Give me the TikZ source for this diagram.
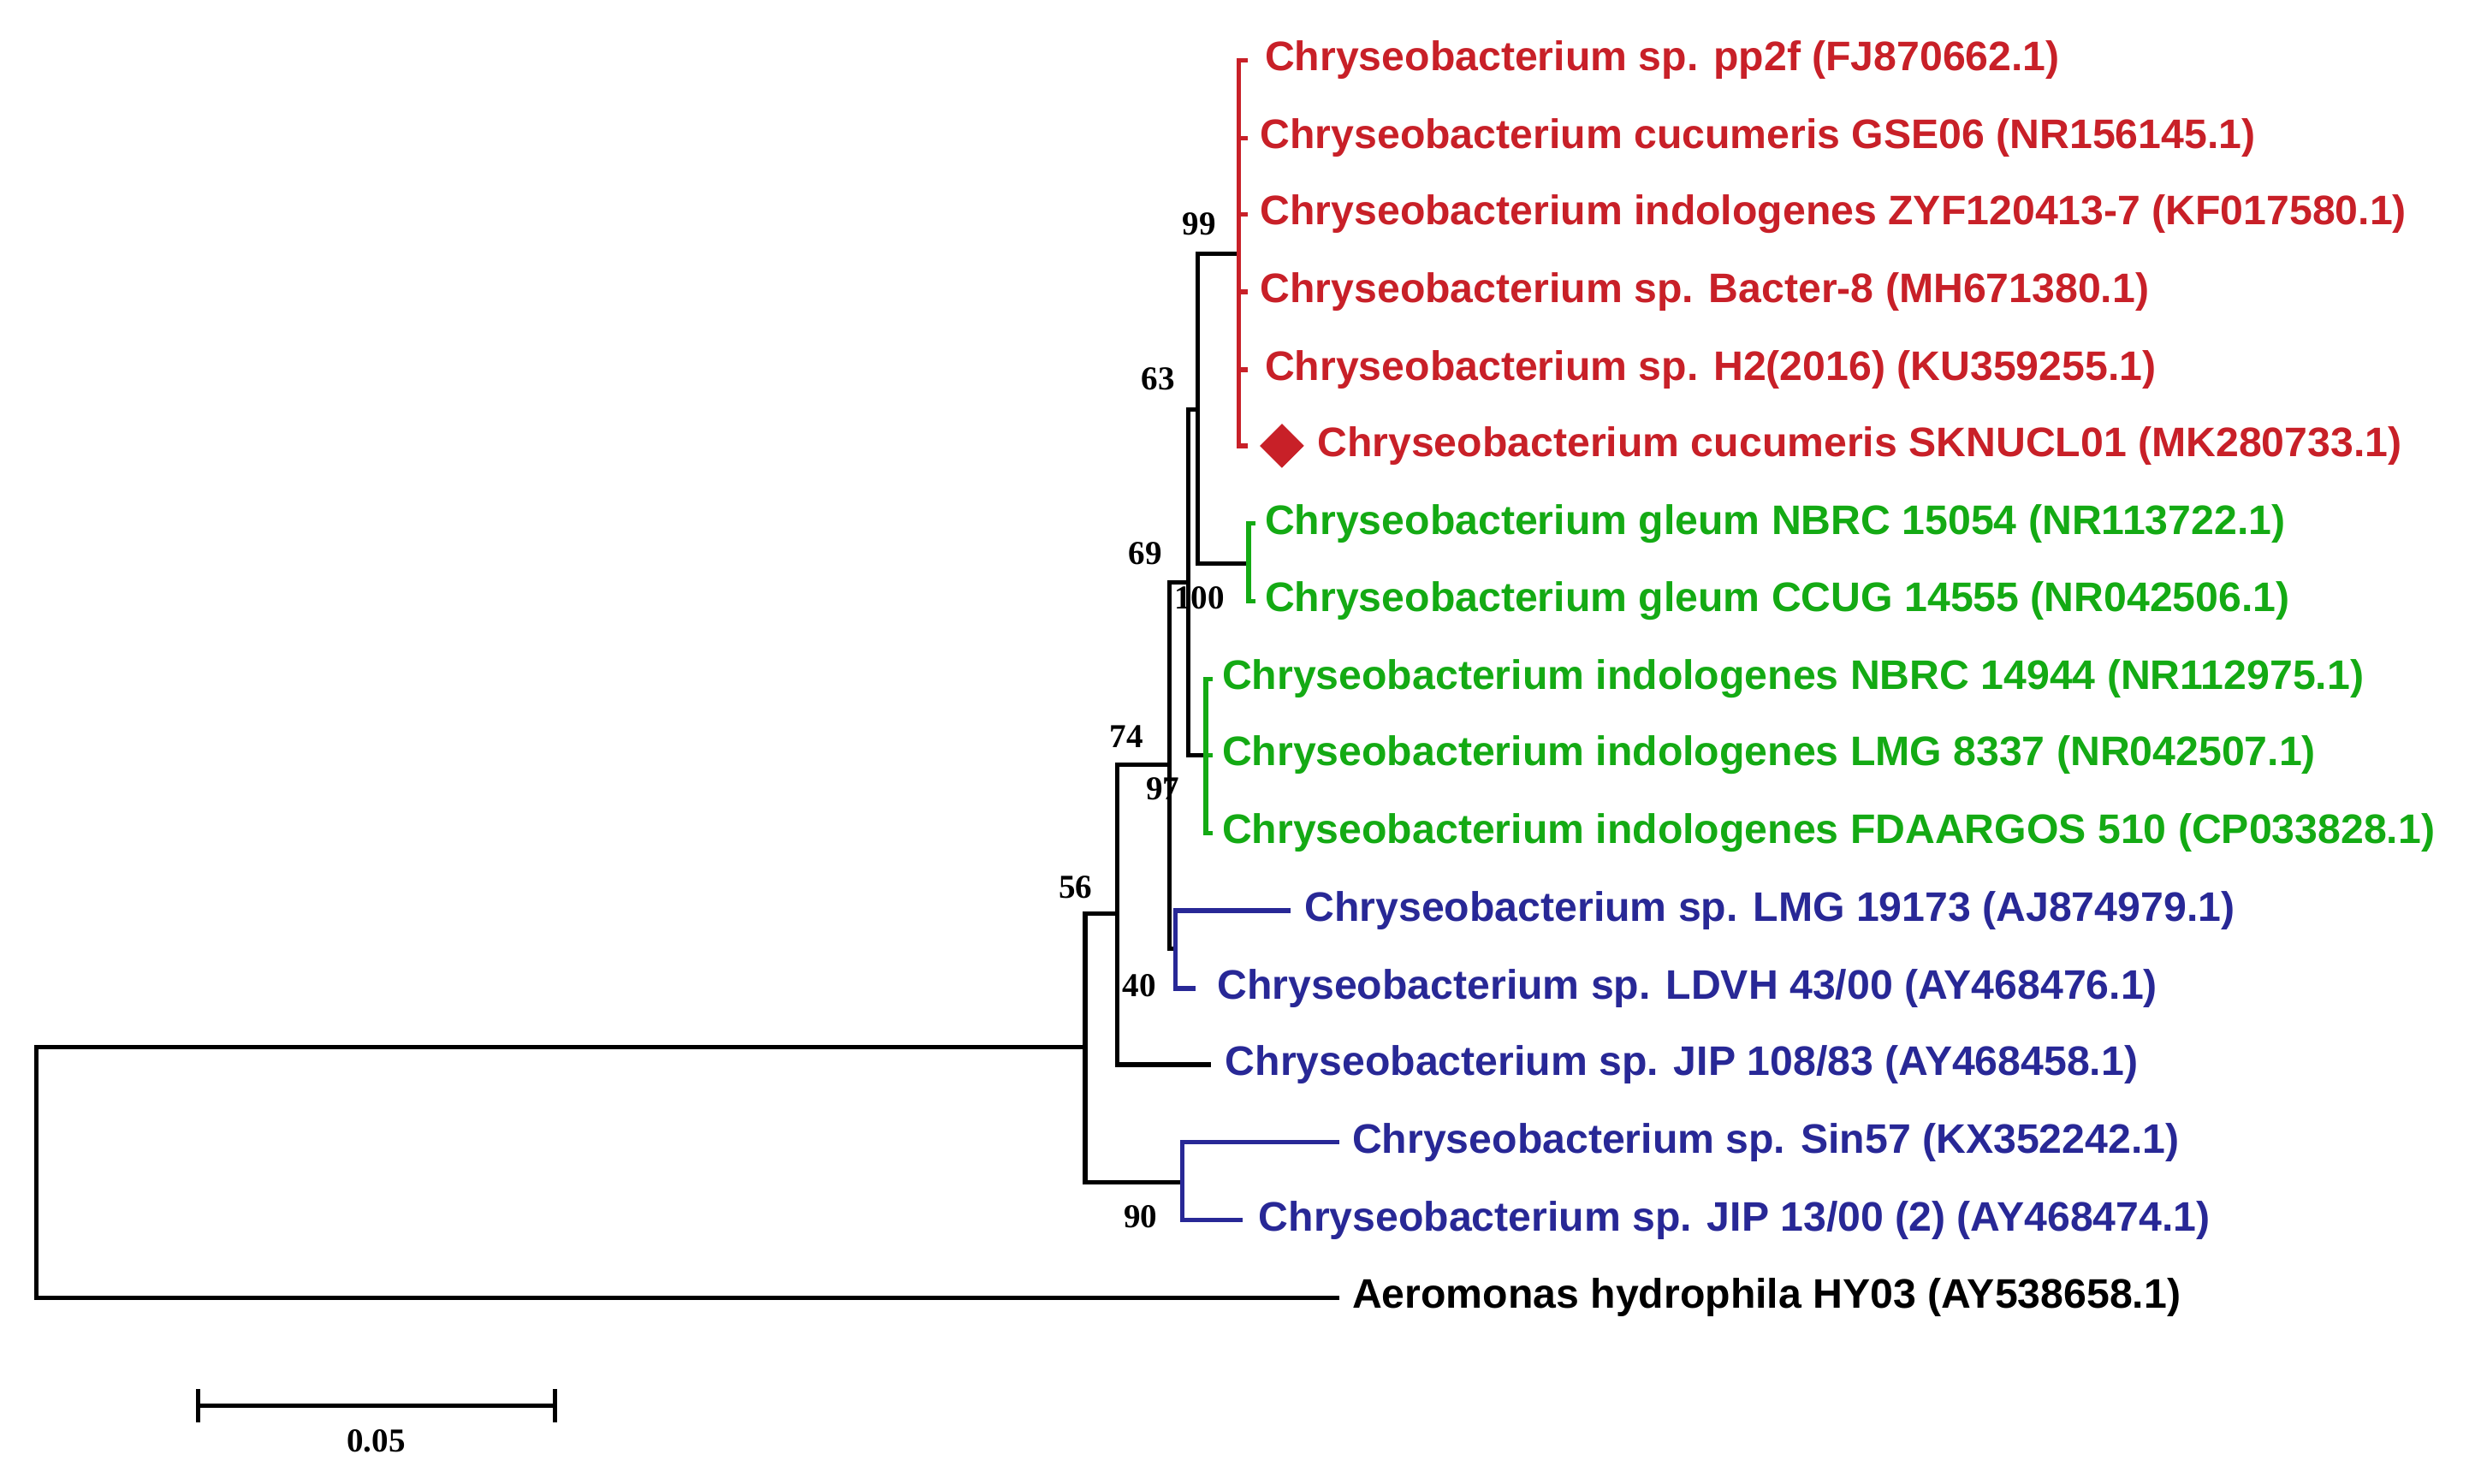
\documentclass[tikz,border=0pt]{standalone}
\usepackage{fontspec}
\setmainfont{Liberation Sans}
\newfontfamily\bootfont{Liberation Serif}
\usetikzlibrary{shapes.geometric}
\definecolor{cladered}{RGB}{200,32,40}
\definecolor{cladegreen}{RGB}{20,170,20}
\definecolor{cladeblue}{RGB}{40,40,150}
\tikzset{
  branch/.style={line width=1.6pt, line cap=rect},
  taxon/.style={anchor=west, inner sep=0pt, font=\fontsize{14.8}{16}\selectfont\bfseries},
  boot/.style={inner sep=0pt, font=\bootfont\fontsize{12}{14}\selectfont\bfseries},
}
\begin{document}
\begin{tikzpicture}[x=0.02cm, y=-0.02cm]
\useasboundingbox (0,0) rectangle (1560,935);
% internal nodes
\coordinate (cR) at (781,160);
\coordinate (cG) at (787,355);
\coordinate (cI) at (760,476);
\coordinate (c40) at (741,598);
\coordinate (c90) at (745,745);
\coordinate (n99) at (755,258);
\coordinate (n63) at (749,367);
\coordinate (n69) at (737,482);
\coordinate (n74) at (704,576);
\coordinate (n56) at (684,660);
\coordinate (root) at (23,740);
\coordinate (e108) at (762,671);
\coordinate (eAer) at (843,818);
% backbone
\draw[branch] (cR) -| (n99) |- (cG);
\draw[branch] (n99) -| (n63) |- (cI);
\draw[branch] (n63) -| (n69) |- (c40);
\draw[branch] (n69) -| (n74) |- (e108);
\draw[branch] (n74) -| (n56) |- (c90);
\draw[branch] (n56) -| (root) |- (eAer);
% red clade
\begin{scope}[cladered]
\coordinate (r1) at (781,38);
\coordinate (r6) at (781,281);
\draw[branch] (r1) -- (r6);
\foreach \y in {38,87,135,184,233,281} \draw[branch] (781,\y) -- (785,\y);
\node[taxon] (t1) at (797,38) {Chryseobacterium sp. pp2f (FJ870662.1)};
\node[taxon] (t2) at (794,87) {Chryseobacterium cucumeris GSE06 (NR156145.1)};
\node[taxon] (t3) at (794,135) {Chryseobacterium indologenes ZYF120413-7 (KF017580.1)};
\node[taxon] (t4) at (794,184) {Chryseobacterium sp. Bacter-8 (MH671380.1)};
\node[taxon] (t5) at (797,233) {Chryseobacterium sp. H2(2016) (KU359255.1)};
\node[diamond, fill=cladered, minimum size=16pt, inner sep=0pt] (dm) at (808,281) {};
\node[taxon] (t6) at (830,281) {Chryseobacterium cucumeris SKNUCL01 (MK280733.1)};
\end{scope}
% green clades
\begin{scope}[cladegreen]
\draw[branch] (787,330) -- (787,379);
\draw[branch] (787,330) -- (790,330);
\draw[branch] (787,379) -- (790,379);
\node[taxon] (t7) at (797,330) {Chryseobacterium gleum NBRC 15054 (NR113722.1)};
\node[taxon] (t8) at (797,379) {Chryseobacterium gleum CCUG 14555 (NR042506.1)};
\draw[branch] (760,428) -- (760,525);
\foreach \y in {428,476,525} \draw[branch] (760,\y) -- (763,\y);
\node[taxon] (t9) at (770,428) {Chryseobacterium indologenes NBRC 14944 (NR112975.1)};
\node[taxon] (t10) at (770,476) {Chryseobacterium indologenes LMG 8337 (NR042507.1)};
\node[taxon] (t11) at (770,525) {Chryseobacterium indologenes FDAARGOS 510 (CP033828.1)};
\end{scope}
% blue clades
\begin{scope}[cladeblue]
\draw[branch] (812,574) -| (c40) |- (752,623);
\node[taxon] (t12) at (822,574) {Chryseobacterium sp. LMG 19173 (AJ874979.1)};
\node[taxon] (t13) at (767,623) {Chryseobacterium sp. LDVH 43/00 (AY468476.1)};
\node[taxon] (t14) at (772,671) {Chryseobacterium sp. JIP 108/83 (AY468458.1)};
\draw[branch] (843,720) -| (c90) |- (782,769);
\node[taxon] (t15) at (852,720) {Chryseobacterium sp. Sin57 (KX352242.1)};
\node[taxon] (t16) at (793,769) {Chryseobacterium sp. JIP 13/00 (2) (AY468474.1)};
\end{scope}
\node[taxon] (t17) at (852,818) {Aeromonas hydrophila HY03 (AY538658.1)};
% bootstrap values
\node[boot] (b99) at (756,141) {99};
\node[boot] (b63) at (730,239) {63};
\node[boot] (b100) at (756,377) {100};
\node[boot] (b69) at (722,349) {69};
\node[boot] (b97) at (733,497) {97};
\node[boot] (b74) at (710,464) {74};
\node[boot] (b56) at (678,559) {56};
\node[boot] (b40) at (718,621) {40};
\node[boot] (b90) at (719,767) {90};
% scale bar
\coordinate (s1) at (125,886);
\coordinate (s2) at (350,886);
\draw[branch] (s1) -- (s2);
\draw[branch] (125,877) -- (125,895);
\draw[branch] (350,877) -- (350,895);
\node[boot] (sc) at (237,908) {0.05};
\end{tikzpicture}
\end{document}
